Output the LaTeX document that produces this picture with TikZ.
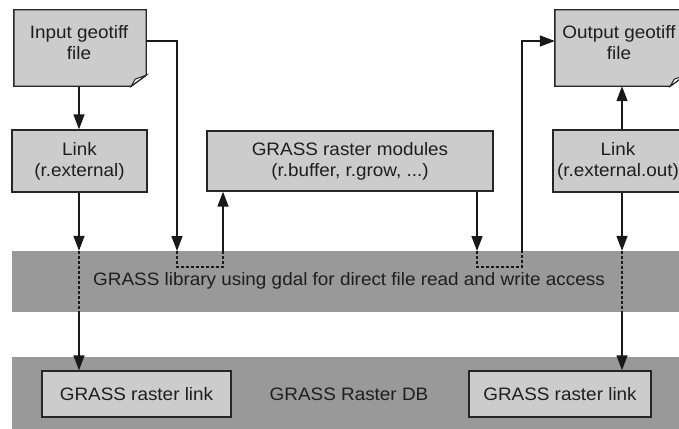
\documentclass[tikz,border=0pt]{standalone}
\usepackage{fontspec}
\setmainfont{Liberation Sans}[FakeStretch=1.05]
\usetikzlibrary{arrows.meta,calc}
\definecolor{boxgrey}{HTML}{CCCCCC}
\definecolor{bandgrey}{HTML}{999999}
\definecolor{txt}{HTML}{1E1E1E}
\begin{document}
\begin{tikzpicture}[x=1pt,y=-1pt,
  every node/.style={inner sep=0pt, text=txt, font=\fontsize{18}{21}\selectfont, align=center},
  box/.style={draw=black!85, line width=1.4pt, fill=boxgrey},
  docbox/.style={fill=none, draw=none},
  band/.style={fill=bandgrey, draw=none},
  conn/.style={line width=1.5pt, draw=black!90},
  arr/.style={conn, -{Triangle[length=15pt,width=11pt]}},
  dsh/.style={line width=1.3pt, draw=black!90, dash pattern=on 3pt off 2pt}]
\useasboundingbox (0,0) rectangle (679,428);
\clip (0,0) rectangle (679,428);

% bands
\node[band, minimum width=680pt, minimum height=61pt] (band1) at (352,281.5) {};
\node[band, minimum width=680pt, minimum height=75pt] (band2) at (352,394.5) {};
\node (lib) at (349,281) {GRASS library using gdal for direct file read and write access};
\node (db) at (349,394) {GRASS Raster DB};

% document boxes
\node[docbox, minimum width=132pt, minimum height=76pt] (in) at (80,48) {};
\node[docbox, minimum width=130pt, minimum height=76pt] (out) at (620,48) {};
\foreach \d in {in,out}{
  \draw[box] (\d.north west) -- (\d.north east) -- ($(\d.south east)+(0,-11)$)
     -- ($(\d.south east)+(-15,0)$) -- (\d.south west) -- cycle;
  \draw[line width=1pt, draw=black!85, fill=white!85!boxgrey]
     ($(\d.south east)+(-15,0)$) -- ($(\d.south east)+(-11,-7)$) -- ($(\d.south east)+(0,-11)$) -- cycle;
}
\node (inlbl) at (79,43) {Input geotiff\\file};
\node (outlbl) at (619,43) {Output geotiff\\file};

% rectangular boxes
\node[box, minimum width=135pt, minimum height=62pt] (link) at (79.5,161) {Link\\(r.external)};
\node[box, minimum width=286pt, minimum height=60pt] (mod) at (350,161) {GRASS raster modules\\(r.buffer, r.grow, ...)};
\node[box, minimum width=130pt, minimum height=62pt] (linkout) at (618,161) {Link\\(r.external.out)};
\node[box, minimum width=189pt, minimum height=46pt] (rl1) at (136.5,394) {GRASS raster link};
\node[box, minimum width=182pt, minimum height=46pt] (rl2) at (560,394) {GRASS raster link};

% helper coordinates
\coordinate (a1) at (177,251);
\coordinate (a2) at (223,251);
\coordinate (b1) at (477,251);
\coordinate (b2) at (522,251);
\coordinate (cl) at (79,251);
\coordinate (cr) at (622,251);

% connectors
\draw[arr] (in.south -| cl) -- (link.north -| cl);
\draw[arr] (link.south -| cl) -- (band1.north -| cl);
\draw[dsh] (band1.north -| cl) -- (band1.south -| cl);
\draw[arr] (band1.south -| cl) -- (rl1.north -| cl);

\draw[arr] ([yshift=7pt]in.east) -| (a1);
\draw[dsh] (a1) -- ++(0,16) -| (a2);
\draw[arr] (a2) -- (a2 |- mod.south);

\draw[arr] (b1 |- mod.south) -- (b1);
\draw[dsh] (b1) -- ++(0,16) -| (b2);
\draw[arr] (b2) |- ([yshift=7pt]out.west);

\draw[arr] (linkout.north -| cr) -- (out.south -| cr);
\draw[arr] (linkout.south -| cr) -- (band1.north -| cr);
\draw[dsh] (band1.north -| cr) -- (band1.south -| cr);
\draw[arr] (band1.south -| cr) -- (rl2.north -| cr);
\end{tikzpicture}
\end{document}
